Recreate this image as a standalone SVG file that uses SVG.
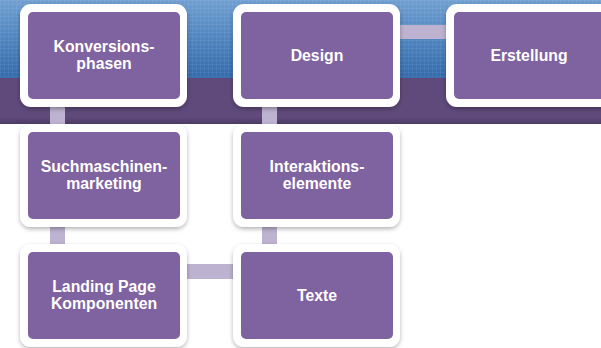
<svg xmlns="http://www.w3.org/2000/svg" width="601" height="348" viewBox="0 0 601 348">
<defs>
<linearGradient id="sky" x1="0" y1="0" x2="0" y2="1">
<stop offset="0" stop-color="#6f9fd2"/>
<stop offset="0.5" stop-color="#4f84bf"/>
<stop offset="1" stop-color="#326aab"/>
</linearGradient>
<linearGradient id="band" x1="0" y1="0" x2="0" y2="1">
<stop offset="0" stop-color="#5f4a7b"/>
<stop offset="0.85" stop-color="#5f4a7b"/>
<stop offset="1" stop-color="#4d3b66"/>
</linearGradient>
<pattern id="grid" width="4" height="4" patternUnits="userSpaceOnUse">
<path d="M0 0.5H4M0.5 0V4" stroke="#ffffff" stroke-opacity="0.06" stroke-width="1"/>
</pattern>
<filter id="sh" x="-10%" y="-10%" width="120%" height="125%">
<feDropShadow dx="0" dy="2" stdDeviation="2" flood-color="#000000" flood-opacity="0.3"/>
</filter>
</defs>
<style>
.outer{fill:#ffffff;filter:url(#sh)}
.inner{fill:#7f62a0}
.lbl{font-family:"Liberation Sans",Arial,sans-serif;font-weight:bold;font-size:15.8px;fill:#ffffff;text-anchor:middle}
.con{fill:#bdb3d0}
</style>
<rect x="0" y="0" width="601" height="79" fill="url(#sky)"/>
<rect x="0" y="0" width="601" height="79" fill="url(#grid)"/>
<rect x="0" y="78" width="601" height="46" fill="url(#band)"/>
<rect x="0" y="124" width="601" height="224" fill="#ffffff"/>
<g id="connectors">
<rect class="con" x="50" y="105" width="15" height="20"/>
<rect class="con" x="50" y="225" width="15" height="21"/>
<rect class="con" x="185" y="264" width="50" height="15"/>
<rect class="con" x="262" y="225" width="15" height="21"/>
<rect class="con" x="262" y="105" width="15" height="20"/>
<rect class="con" x="397" y="25" width="51" height="14"/>
</g>
<g id="n1">
<rect class="outer" x="20" y="4" width="167" height="103" rx="11"/>
<rect class="inner" x="28" y="12" width="152" height="87" rx="5"/>
<text class="lbl" x="104" y="52">Konversions-</text>
<text class="lbl" x="104" y="69">phasen</text>
</g>
<g id="n2">
<rect class="outer" x="233" y="4" width="167" height="103" rx="11"/>
<rect class="inner" x="241" y="12" width="152" height="87" rx="5"/>
<text class="lbl" x="317" y="61">Design</text>
</g>
<g id="n3">
<rect class="outer" x="446" y="4" width="167" height="103" rx="11"/>
<rect class="inner" x="454" y="12" width="152" height="87" rx="5"/>
<text class="lbl" x="529" y="61">Erstellung</text>
</g>
<g id="n4">
<rect class="outer" x="20" y="124" width="167" height="103" rx="11"/>
<rect class="inner" x="28" y="132" width="152" height="87" rx="5"/>
<text class="lbl" x="104" y="172">Suchmaschinen-</text>
<text class="lbl" x="104" y="189">marketing</text>
</g>
<g id="n5">
<rect class="outer" x="233" y="124" width="167" height="103" rx="11"/>
<rect class="inner" x="241" y="132" width="152" height="87" rx="5"/>
<text class="lbl" x="317" y="172">Interaktions-</text>
<text class="lbl" x="317" y="189">elemente</text>
</g>
<g id="n6">
<rect class="outer" x="20" y="244" width="167" height="103" rx="11"/>
<rect class="inner" x="28" y="252" width="152" height="87" rx="5"/>
<text class="lbl" x="104" y="292">Landing Page</text>
<text class="lbl" x="104" y="309">Komponenten</text>
</g>
<g id="n7">
<rect class="outer" x="233" y="244" width="167" height="103" rx="11"/>
<rect class="inner" x="241" y="252" width="152" height="87" rx="5"/>
<text class="lbl" x="317" y="301">Texte</text>
</g>
</svg>
